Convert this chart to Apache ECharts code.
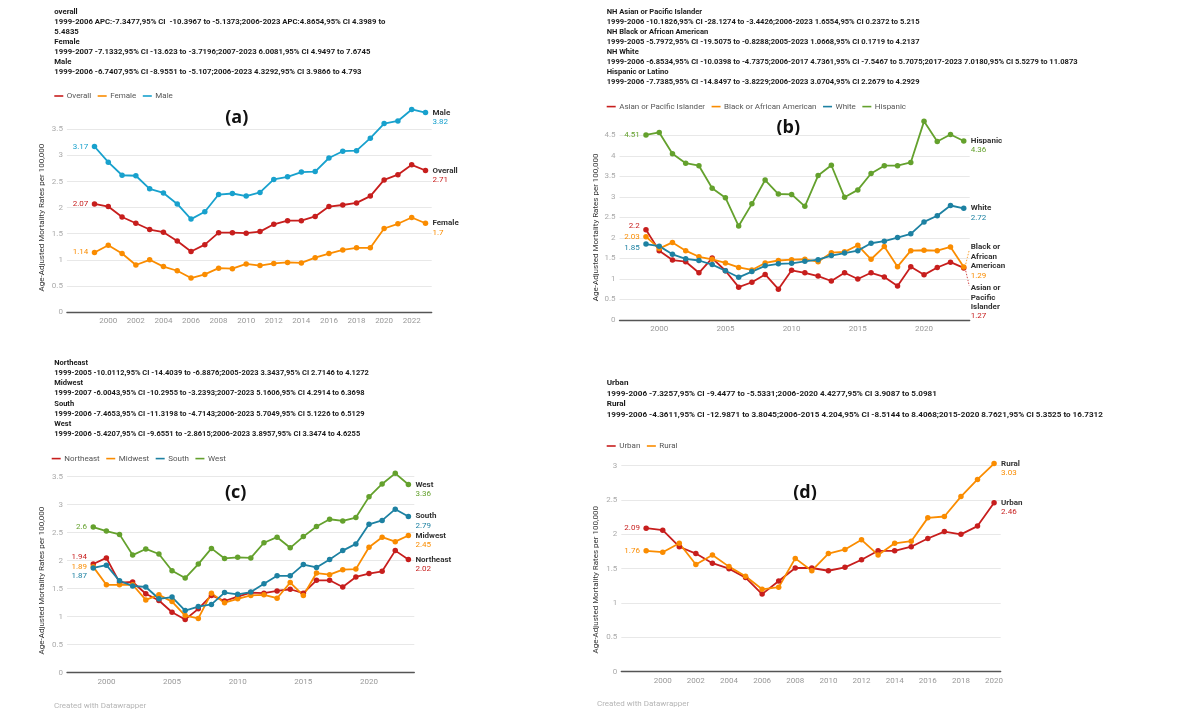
<!DOCTYPE html>
<html><head><meta charset="utf-8">
<script src="https://cdn.jsdelivr.net/npm/echarts@6/dist/echarts.min.js"></script>
<style>html,body{margin:0;padding:0;background:#fff}#c{width:1200px;height:716px}</style>
</head><body><div id="c"></div>
<script>
// ---------- data ----------
const years = [1999,2000,2001,2002,2003,2004,2005,2006,2007,2008,2009,2010,2011,2012,2013,2014,2015,2016,2017,2018,2019,2020,2021,2022,2023];
const yearsUR = [1999,2000,2001,2002,2003,2004,2005,2006,2007,2008,2009,2010,2011,2012,2013,2014,2015,2016,2017,2018,2019,2020];

// (a) sex
const overall = [2.07,2.02,1.82,1.70,1.58,1.53,1.36,1.16,1.29,1.52,1.52,1.51,1.54,1.68,1.75,1.75,1.83,2.02,2.05,2.09,2.22,2.53,2.63,2.82,2.71];
const female  = [1.14,1.28,1.12,0.90,1.00,0.87,0.79,0.65,0.72,0.84,0.83,0.92,0.89,0.93,0.95,0.94,1.04,1.12,1.19,1.23,1.23,1.60,1.69,1.81,1.70];
const male    = [3.17,2.87,2.62,2.61,2.36,2.28,2.07,1.78,1.92,2.25,2.27,2.22,2.29,2.54,2.59,2.68,2.69,2.95,3.08,3.09,3.33,3.61,3.66,3.88,3.82];

// (b) race / ethnicity
const asianPI  = [2.20,1.69,1.46,1.42,1.15,1.51,1.20,0.80,0.92,1.11,0.75,1.21,1.15,1.07,0.95,1.15,1.00,1.15,1.05,0.83,1.30,1.10,1.28,1.41,1.27];
const blackAA  = [2.03,1.74,1.89,1.69,1.54,1.48,1.39,1.28,1.22,1.39,1.45,1.47,1.48,1.42,1.64,1.66,1.82,1.48,1.79,1.30,1.69,1.70,1.69,1.78,1.29];
const white    = [1.85,1.80,1.60,1.49,1.45,1.35,1.20,1.04,1.18,1.32,1.37,1.38,1.43,1.47,1.57,1.63,1.69,1.87,1.92,2.01,2.10,2.39,2.54,2.79,2.72];
const hispanic = [4.51,4.57,4.05,3.82,3.76,3.21,2.98,2.29,2.83,3.41,3.07,3.06,2.77,3.52,3.77,2.99,3.17,3.57,3.76,3.76,3.84,4.84,4.35,4.52,4.36];

// (c) census region
const northeast = [1.94,2.05,1.61,1.62,1.41,1.29,1.08,0.95,1.14,1.38,1.28,1.36,1.43,1.42,1.46,1.49,1.42,1.65,1.65,1.53,1.71,1.77,1.81,2.18,2.02];
const midwest   = [1.89,1.57,1.57,1.57,1.30,1.39,1.27,1.02,0.97,1.42,1.25,1.32,1.38,1.39,1.33,1.61,1.38,1.78,1.75,1.84,1.85,2.24,2.42,2.34,2.45];
const south     = [1.87,1.92,1.64,1.55,1.53,1.32,1.35,1.11,1.18,1.22,1.43,1.40,1.44,1.59,1.73,1.73,1.93,1.88,2.02,2.18,2.30,2.65,2.72,2.92,2.79];
const west      = [2.60,2.53,2.47,2.10,2.21,2.12,1.82,1.69,1.94,2.22,2.04,2.06,2.05,2.32,2.42,2.23,2.43,2.61,2.74,2.71,2.77,3.14,3.37,3.56,3.36];

// (d) urbanization
const urban = [2.09,2.06,1.82,1.72,1.58,1.50,1.37,1.13,1.32,1.51,1.51,1.47,1.52,1.63,1.76,1.76,1.82,1.94,2.04,2.00,2.12,2.46];
const rural = [1.76,1.74,1.87,1.56,1.70,1.53,1.39,1.20,1.23,1.65,1.47,1.72,1.78,1.92,1.70,1.87,1.90,2.24,2.26,2.55,2.80,3.03];

// x tick labels shown on each panel
const xTicksA = [2000,2002,2004,2006,2008,2010,2012,2014,2016,2018,2020,2022];
const xTicksB = [2000,2005,2010,2015,2020];
const xTicksC = [2000,2005,2010,2015,2020];
const xTicksD = [2000,2002,2004,2006,2008,2010,2012,2014,2016,2018,2020];

// ---------- text ----------
const headerA = [
  'overall',
  '1999-2006 APC:-7.3477,95% CI  -10.3967 to -5.1373;2006-2023 APC:4.8654,95% CI 4.3989 to',
  '5.4835',
  'Female',
  '1999-2007 -7.1332,95% CI -13.623 to -3.7196;2007-2023 6.0081,95% CI 4.9497 to 7.6745',
  'Male',
  '1999-2006 -6.7407,95% CI -8.9551 to -5.107;2006-2023 4.3292,95% CI 3.9866 to 4.793'
];
const headerB = [
  'NH Asian or Pacific Islander',
  '1999-2006 -10.1826,95% CI -28.1274 to -3.4426;2006-2023 1.6554,95% CI 0.2372 to 5.215',
  'NH Black or African American',
  '1999-2005 -5.7972,95% CI -19.5075 to -0.8288;2005-2023 1.0668,95% CI 0.1719 to 4.2137',
  'NH White',
  '1999-2006 -6.8534,95% CI -10.0398 to -4.7375;2006-2017 4.7361,95% CI -7.5467 to 5.7075;2017-2023 7.0180,95% CI 5.5279 to 11.0873',
  'Hispanic or Latino',
  '1999-2006 -7.7385,95% CI -14.8497 to -3.8229;2006-2023 3.0704,95% CI 2.2679 to 4.2929'
];
const headerC = [
  'Northeast',
  '1999-2005 -10.0112,95% CI -14.4039 to -6.8876;2005-2023 3.3437,95% CI 2.7146 to 4.1272',
  'Midwest',
  '1999-2007 -6.0043,95% CI -10.2955 to -3.2393;2007-2023 5.1606,95% CI 4.2914 to 6.3698',
  'South',
  '1999-2006 -7.4653,95% CI -11.3198 to -4.7143;2006-2023 5.7049,95% CI 5.1226 to 6.5129',
  'West',
  '1999-2006 -5.4207,95% CI -9.6551 to -2.8615;2006-2023 3.8957,95% CI 3.3474 to 4.6255'
];
const headerD = [
  'Urban',
  '1999-2006 -7.3257,95% CI -9.4477 to -5.5331;2006-2020 4.4277,95% CI 3.9087 to 5.0981',
  'Rural',
  '1999-2006 -4.3611,95% CI -12.9871 to 3.8045;2006-2015 4.204,95% CI -8.5144 to 8.4068;2015-2020 8.7621,95% CI 5.3525 to 16.7312'
];
const yTitle = 'Age-Adjusted Mortality Rates per 100,000';

// ---------- styles ----------
const RED = '#c71e1d', ORANGE = '#fa8c00', CYAN = '#18a1cd', TEAL = '#1d81a2', GREEN = '#64a12d';
const FONT = 'Roboto, "Noto Sans", sans-serif';
const LH = 9.4;

function mkSeries(name, endName, yrs, vals, color, gi, startOff, endOff) {
  const data = yrs.map((y, i) => {
    const d = { value: [y, vals[i]] };
    if (i === 0) d.label = { show: true, position: 'left', distance: 3.5, offset: [0, startOff || 0] };
    return d;
  });
  const parts = endName.split('\n');
  const nameLines = parts.map(s => '{n|' + s + '}').join('\n');
  return {
    type: 'line', name, xAxisIndex: gi, yAxisIndex: gi, data,
    color, symbol: 'circle', symbolSize: 5.5,
    lineStyle: { width: 1.8, color }, itemStyle: { color },
    label: { show: false, color, fontSize: 8, fontFamily: FONT,
      formatter: p => p.dataIndex === 0 ? String(p.value[1]) : '' },
    endLabel: {
      show: true, distance: 7,
      offset: [0, (endOff || 0) + parts.length * LH / 2],
      formatter: p => nameLines + '\n{v|' + p.value[1] + '}',
      rich: {
        n: { fontWeight: 'bold', color: '#333', fontSize: 8, lineHeight: LH, fontFamily: FONT },
        v: { color, fontSize: 8, lineHeight: LH, fontFamily: FONT }
      }
    },
    emphasis: { disabled: true }
  };
}

const grids = [
  { left: 66.9, top: 103.2, width: 364.8, height: 208.8 },
  { left: 619.5, top: 114.8, width: 350.2, height: 205.2 },
  { left: 67.0, top: 465.5, width: 347.3, height: 207.2 },
  { left: 621.3, top: 458.8, width: 379.4, height: 212.9 }
];
const xCfg = [
  { min: 1997, max: 2023.45, interval: 1, ticks: xTicksA },
  { min: 1997, max: 2023.45, interval: 1, ticks: xTicksB },
  { min: 1997, max: 2023.45, interval: 1, ticks: xTicksC },
  { min: 1997.5, max: 2020.4, interval: 0.5, ticks: xTicksD }
];
const yCfg = [
  { max: 4.0, gap: 21, shift: 20 },
  { max: 5.0, gap: 18.5, shift: 20 },
  { max: 3.7, gap: 21, shift: 23 },
  { max: 3.1, gap: 21.5, shift: 29 }
];

const xAxes = xCfg.map((c, i) => ({
  type: 'value', gridIndex: i, min: c.min, max: c.max, interval: c.interval,
  axisLine: { show: true, lineStyle: { color: '#555', width: 1.3 } },
  axisTick: { show: false }, splitLine: { show: false },
  axisLabel: { color: '#999', fontSize: 8, fontFamily: FONT, margin: 5,
    formatter: v => { const r = Math.round(v); return (Math.abs(v - r) < 1e-6 && c.ticks.indexOf(r) >= 0) ? String(r) : ''; } }
}));
const yAxes = yCfg.map((c, i) => ({
  type: 'value', gridIndex: i, min: 0, max: c.max, interval: 0.5,
  name: yTitle, nameLocation: 'middle', nameGap: c.gap,
  nameTextStyle: { color: '#333', fontSize: 8, fontFamily: FONT, padding: [0, c.shift, 0, 0] },
  axisLine: { show: false }, axisTick: { show: false },
  splitLine: { show: true, showMaxLine: false, lineStyle: { color: '#e8e8e8', width: 1 } },
  axisLabel: { color: '#aaa', fontSize: 8, fontFamily: FONT, margin: 4, showMaxLabel: false }
}));

const series = [
  mkSeries('Overall', 'Overall', years, overall, RED, 0),
  mkSeries('Female', 'Female', years, female, ORANGE, 0),
  mkSeries('Male', 'Male', years, male, CYAN, 0),
  mkSeries('Asian or Pacific Islander', 'Asian or\nPacific\nIslander', years, asianPI, RED, 1, -3.7, 20.4),
  mkSeries('Black or African American', 'Black or\nAfrican\nAmerican', years, blackAA, ORANGE, 1, 0, -19.7),
  mkSeries('White', 'White', years, white, TEAL, 1, 3.6),
  mkSeries('Hispanic', 'Hispanic', years, hispanic, GREEN, 1),
  mkSeries('Northeast', 'Northeast', years, northeast, RED, 2, -7.4),
  mkSeries('Midwest', 'Midwest', years, midwest, ORANGE, 2, 0),
  mkSeries('South', 'South', years, south, TEAL, 2, 8),
  mkSeries('West', 'West', years, west, GREEN, 2),
  mkSeries('Urban', 'Urban', yearsUR, urban, RED, 3),
  mkSeries('Rural', 'Rural', yearsUR, rural, ORANGE, 3)
];

const legendBase = { icon: 'rect', itemWidth: 9, itemHeight: 1.6, itemGap: 6.5, selectedMode: false,
  textStyle: { fontSize: 8, color: '#555', fontFamily: FONT, padding: [0, 0, 0, -1.5] }, padding: 0 };
const legends = [
  Object.assign({}, legendBase, { left: 54.3, top: 92, data: ['Overall', 'Female', 'Male'] }),
  Object.assign({}, legendBase, { left: 606.7, top: 102.6, data: ['Asian or Pacific Islander', 'Black or African American', 'White', 'Hispanic'] }),
  Object.assign({}, legendBase, { left: 51.7, top: 454.6, data: ['Northeast', 'Midwest', 'South', 'West'] }),
  Object.assign({}, legendBase, { left: 606.7, top: 442, data: ['Urban', 'Rural'] })
];

function header(lines, x, yCenterFirst, lh, fs) {
  return { type: 'text', x: x, y: yCenterFirst - lh / 2, silent: true,
    style: { text: lines.join('\n'), fontSize: fs, fontWeight: 'bold', fontFamily: FONT,
      fill: '#1a1a1a', lineHeight: lh, align: 'left', verticalAlign: 'top' } };
}
function tag(t, x, y) {
  return { type: 'text', x: x, y: y, silent: true,
    style: { text: t, fontSize: 18, fontWeight: 'bold', fontFamily: '"Open Sans", sans-serif',
      fill: '#111', align: 'center', verticalAlign: 'middle' } };
}
function credit(x, y) {
  return { type: 'text', x: x, y: y, silent: true,
    style: { text: 'Created with Datawrapper', fontSize: 8, fontFamily: FONT, fill: '#b5b5b5',
      align: 'left', verticalAlign: 'middle' } };
}

const chart = echarts.init(document.getElementById('c'), null, { renderer: 'canvas' });
chart.setOption({
  animation: false,
  backgroundColor: '#fff',
  grid: grids,
  xAxis: xAxes,
  yAxis: yAxes,
  legend: legends,
  series: series,
  graphic: [
    header(headerA, 54.3, 11.7, 10, 7.75),
    header(headerB, 606.7, 11.7, 10, 7.57),
    header(headerC, 54.3, 363.3, 10.1, 7.5),
    header(headerD, 606.7, 383.3, 10.4, 8.1),
    tag('(a)', 236.7, 118.3),
    tag('(b)', 788.3, 128.3),
    tag('(c)', 235.7, 493.3),
    tag('(d)', 805, 493.3),
    credit(597, 704),
    credit(54, 706)
  ]
});

// dotted leader lines for the displaced end labels in panel (b)
const pB = chart.convertToPixel({ gridIndex: 1 }, [years[years.length - 1], blackAA[blackAA.length - 1]]);
const pA = chart.convertToPixel({ gridIndex: 1 }, [years[years.length - 1], asianPI[asianPI.length - 1]]);
chart.setOption({
  graphic: [
    { id: 'ldrB', type: 'line', silent: true,
      shape: { x1: pB[0] + 2, y1: pB[1] - 3, x2: pB[0] + 5.5, y2: pB[1] - 17 },
      style: { stroke: ORANGE, lineWidth: 0.8, lineDash: [1.5, 1.5] } },
    { id: 'ldrA', type: 'line', silent: true,
      shape: { x1: pA[0] + 2, y1: pA[1] + 3, x2: pA[0] + 5.5, y2: pA[1] + 18 },
      style: { stroke: RED, lineWidth: 0.8, lineDash: [1.5, 1.5] } }
  ]
});
</script>
</body></html>
